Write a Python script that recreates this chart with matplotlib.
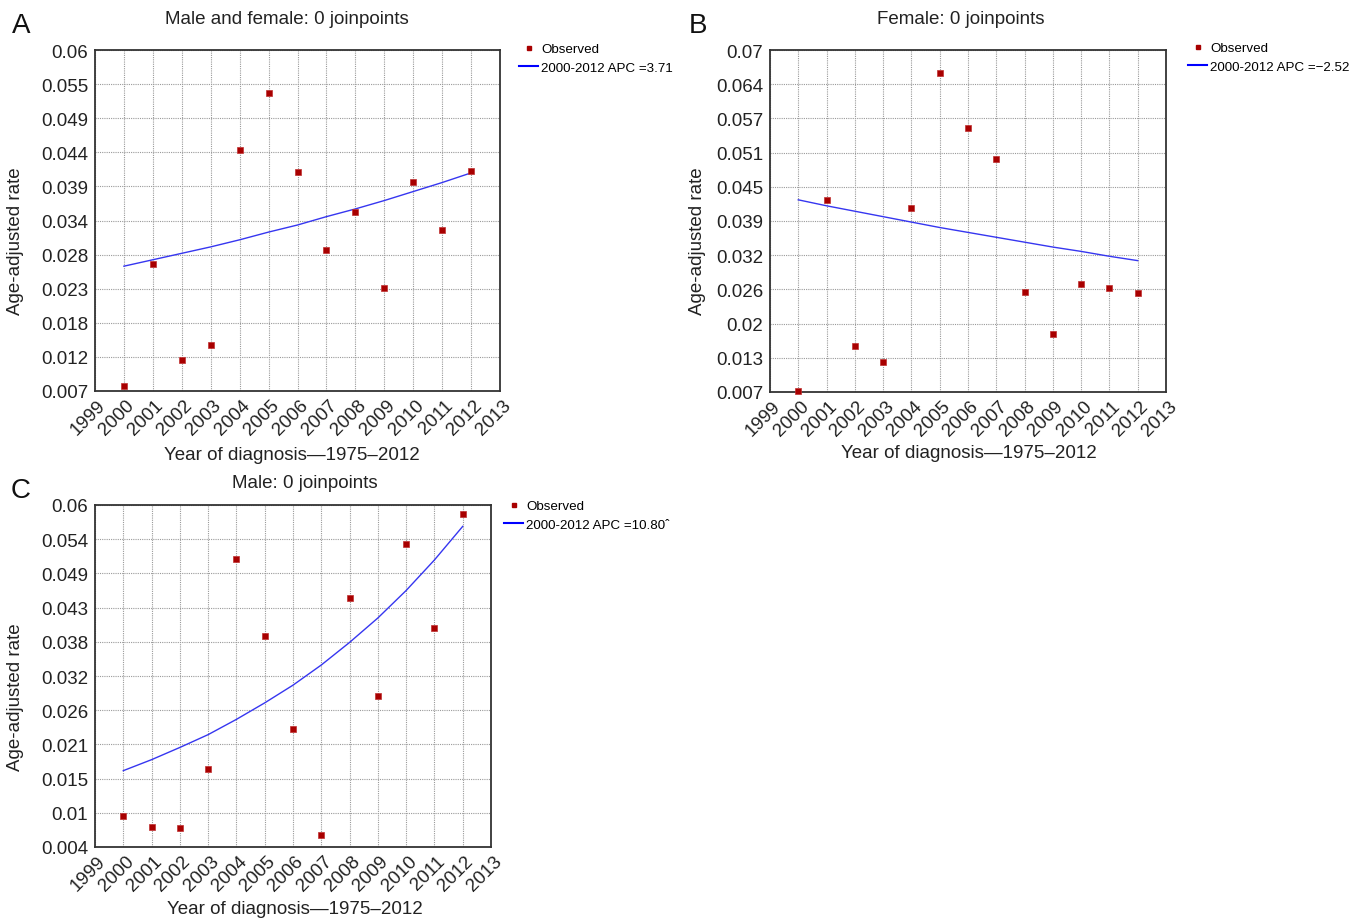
import numpy as np
import matplotlib
matplotlib.use("Agg")
import matplotlib.pyplot as plt
from matplotlib.transforms import ScaledTranslation
from matplotlib.lines import Line2D

plt.rcParams['font.family'] = ['Liberation Sans', 'DejaVu Sans']

years = list(range(2000, 2013))
xticks = list(range(1999, 2014))

# Panel A: Male and female
obs_a = [0.0078, 0.0267, 0.0118, 0.0142, 0.0445, 0.0533, 0.0410, 0.0289,
         0.0348, 0.0230, 0.0395, 0.0321, 0.0412]
fit_a = [0.0264, 0.0274, 0.0284, 0.0294, 0.0305, 0.0317, 0.0328, 0.0341,
         0.0353, 0.0366, 0.0380, 0.0394, 0.0409]
yt_a = ['0.007', '0.012', '0.018', '0.023', '0.028', '0.034', '0.039',
        '0.044', '0.049', '0.055', '0.06']

# Panel B: Female
obs_b = [0.0072, 0.0424, 0.0155, 0.0125, 0.0409, 0.0658, 0.0557, 0.0499,
         0.0254, 0.0177, 0.0269, 0.0261, 0.0253]
fit_b = [0.0424, 0.0413, 0.0403, 0.0393, 0.0383, 0.0373, 0.0364, 0.0355,
         0.0346, 0.0337, 0.0329, 0.0320, 0.0312]
yt_b = ['0.007', '0.013', '0.02', '0.026', '0.032', '0.039', '0.045',
        '0.051', '0.057', '0.064', '0.07']

# Panel C: Male
obs_c = [0.0090, 0.0072, 0.0071, 0.0168, 0.0512, 0.0385, 0.0234, 0.0060,
         0.0447, 0.0288, 0.0536, 0.0399, 0.0585]
fit_c = [0.0165, 0.0183, 0.0203, 0.0224, 0.0249, 0.0276, 0.0305, 0.0338,
         0.0375, 0.0415, 0.0460, 0.0510, 0.0565]
yt_c = ['0.004', '0.01', '0.015', '0.021', '0.026', '0.032', '0.038',
        '0.043', '0.049', '0.054', '0.06']

W, H = 1352, 920
fig = plt.figure(figsize=(W / 100, H / 100), dpi=100)


def fx(px):
    return px / W


def fy(py):
    return 1 - py / H


FS = 13.5
OBS_COLOR = '#a80000'
LINE_COLOR = '#3636f0'

panels = [
    dict(rect=(95, 51, 500, 392), ylim=(0.007, 0.06), obs=obs_a, fit=fit_a, yt=yt_a,
         title="Male and female: 0 joinpoints", title_xy=(287, 20),
         letter="A", letter_xy=(21, 26),
         xlabel_xy=(292, 456), ylabel_xy=(16, 241),
         leg_xy=(519, 44), leg_lab="2000-2012 APC =3.71"),
    dict(rect=(770, 51, 1166, 393), ylim=(0.007, 0.07), obs=obs_b, fit=fit_b, yt=yt_b,
         title="Female: 0 joinpoints", title_xy=(961, 20),
         letter="B", letter_xy=(698, 26),
         xlabel_xy=(969, 454), ylabel_xy=(697, 241),
         leg_xy=(1188, 43), leg_lab="2000-2012 APC =\u22122.52"),
    dict(rect=(95, 506, 491, 848), ylim=(0.004, 0.06), obs=obs_c, fit=fit_c, yt=yt_c,
         title="Male: 0 joinpoints", title_xy=(305, 484),
         letter="C", letter_xy=(21, 491),
         xlabel_xy=(295, 910), ylabel_xy=(16, 697),
         leg_xy=(504, 501), leg_lab="2000-2012 APC =10.80\u02c6"),
]

for p in panels:
    l, t, r, b = p['rect']
    ax = fig.add_axes([fx(l), fy(b), (r - l) / W, (b - t) / H])
    ax.set_xlim(1999, 2013)
    ax.set_ylim(*p['ylim'])
    ax.set_xticks(xticks)
    ax.set_xticklabels([str(x) for x in xticks], rotation=45, ha='right',
                       va='center', rotation_mode='anchor', fontsize=FS)
    yticks = np.linspace(p['ylim'][0], p['ylim'][1], len(p['yt']))
    ax.set_yticks(yticks)
    ax.set_yticklabels(p['yt'], fontsize=FS, color='#222222')
    ax.tick_params(axis='both', length=0, colors='#222222')
    ax.tick_params(axis='y', pad=5)
    ax.tick_params(axis='x', pad=8)
    off = ScaledTranslation(8 / 100, 0, fig.dpi_scale_trans)
    for lbl in ax.get_xticklabels():
        lbl.set_transform(lbl.get_transform() + off)
    ax.grid(True, color='#9a9a9a', linestyle=(0, (1, 1)), linewidth=0.8)
    ax.set_axisbelow(True)
    for s in ax.spines.values():
        s.set_color('#333333')
        s.set_linewidth(1.3)
    ax.plot(years, p['fit'], color=LINE_COLOR, linewidth=1.0, zorder=3)
    ax.plot(years, p['obs'], linestyle='none', marker='s', markersize=4.6,
            color=OBS_COLOR, markeredgecolor='#c03030', markeredgewidth=0.5,
            zorder=4, clip_on=False)

    fig.text(fx(p['title_xy'][0]), fy(p['title_xy'][1]), p['title'],
             ha='center', va='center', fontsize=FS, color='#222222')
    fig.text(fx(p['letter_xy'][0]), fy(p['letter_xy'][1]), p['letter'],
             ha='center', va='center', fontsize=20, color='#111111')
    fig.text(fx(p['xlabel_xy'][0]), fy(p['xlabel_xy'][1]),
             "Year of diagnosis\u20141975\u20132012",
             ha='center', va='center', fontsize=FS, color='#222222')
    fig.text(fx(p['ylabel_xy'][0]), fy(p['ylabel_xy'][1]), "Age-adjusted rate",
             ha='center', va='center', rotation=90, fontsize=FS, color='#222222')

    handles = [
        Line2D([], [], linestyle='none', marker='s', markersize=3.2, color=OBS_COLOR),
        Line2D([], [], color='#0000ff', linewidth=1.5),
    ]
    ax.legend(handles, ["Observed", p['leg_lab']], loc='upper left',
              bbox_to_anchor=(fx(p['leg_xy'][0]), fy(p['leg_xy'][1])),
              bbox_transform=fig.transFigure, frameon=False, fontsize=9.6,
              handlelength=1.45, handletextpad=0.2, labelspacing=0.45,
              borderpad=0, borderaxespad=0)

fig.savefig("out.png", dpi=100)
